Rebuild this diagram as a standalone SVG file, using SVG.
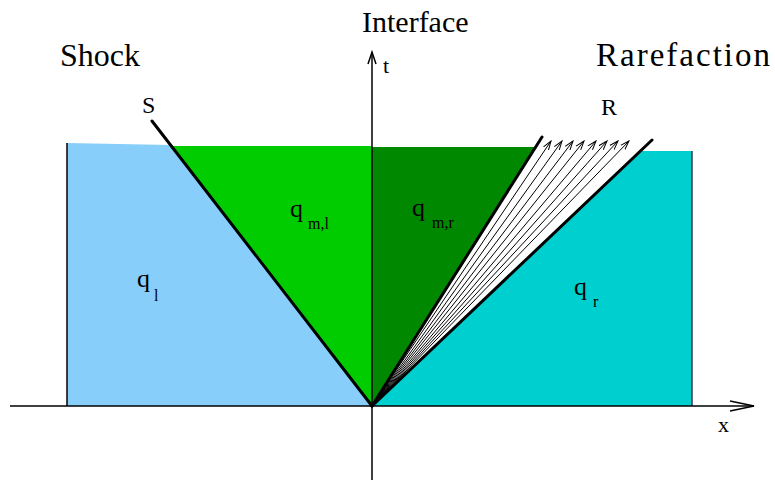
<svg xmlns="http://www.w3.org/2000/svg" width="775" height="487" viewBox="0 0 775 487">
<defs>
<marker id="fan" markerWidth="10" markerHeight="10" refX="9" refY="5" orient="auto" markerUnits="userSpaceOnUse">
<path d="M0,2 L9,5 L0,8" fill="none" stroke="#000" stroke-width="1"/>
</marker>
</defs>
<style>
.big{font-size:30px}
.mid{font-size:24px}
.q{font-size:26px}
.sub{font-size:16px}
.thick{stroke:#000;stroke-width:3;fill:none;stroke-linecap:round}
.thin{stroke:#000;stroke-width:1;fill:none}
.axis{stroke:#000;stroke-width:1.5;fill:none}
</style>
<g id="regions">
<polygon id="ql-region" points="67,143 170,145 372,406 67,406" fill="#87cefa"/>
<polygon id="qml-region" points="170,146 372,146 372,406" fill="#00cc00"/>
<polygon id="qmr-region" points="372,147 536,147 372,406" fill="#008800"/>
<polygon id="qr-region" points="640,151 692,151 692,406 372,406" fill="#00cfd0"/>
<line x1="67" y1="143" x2="67" y2="406" stroke="#000" stroke-width="1.5"/>
<line x1="692" y1="151" x2="692" y2="406" stroke="#335" stroke-width="1.5"/>
</g>
<g id="connectors">
<line class="axis" x1="10" y1="406" x2="754" y2="406"/>
<polyline class="axis" points="730,401 754,406 730,411"/>
<line class="axis" x1="372" y1="480" x2="372" y2="52"/>
<polyline class="axis" points="368,64 372,52 376,64"/>
<g id="fan-arrows">
<line class="thin" x1="372" y1="406" x2="551" y2="141" marker-end="url(#fan)"/>
<line class="thin" x1="372" y1="406" x2="562" y2="141" marker-end="url(#fan)"/>
<line class="thin" x1="372" y1="406" x2="573" y2="141" marker-end="url(#fan)"/>
<line class="thin" x1="372" y1="406" x2="584" y2="141" marker-end="url(#fan)"/>
<line class="thin" x1="372" y1="406" x2="596" y2="141" marker-end="url(#fan)"/>
<line class="thin" x1="372" y1="406" x2="607" y2="141" marker-end="url(#fan)"/>
<line class="thin" x1="372" y1="406" x2="618" y2="141" marker-end="url(#fan)"/>
<line class="thin" x1="372" y1="406" x2="629" y2="141" marker-end="url(#fan)"/>
</g>
<line id="shock" class="thick" x1="152" y1="121" x2="372" y2="406"/>
<line id="rare-left" class="thick" x1="542" y1="137" x2="372" y2="406"/>
<line id="rare-right" class="thick" x1="652" y1="140" x2="372" y2="406"/>
</g>
<g id="labels" fill="#000" font-family="'Liberation Serif', 'Times New Roman', serif">
<text class="big" x="362" y="32">Interface</text>
<text x="60" y="66" font-size="32">Shock</text>
<text x="596" y="66" font-size="33" textLength="174" lengthAdjust="spacing">Rarefaction</text>
<text class="mid" x="142" y="113">S</text>
<text class="mid" x="601" y="115">R</text>
<text font-size="22" x="383" y="73">t</text>
<text font-size="22" x="718" y="432">x</text>
<text class="q" x="137" y="287">q</text><text class="sub" x="154" y="301">l</text>
<text class="q" x="290" y="217">q</text><text class="sub" x="308" y="229">m,l</text>
<text class="q" x="412" y="216">q</text><text class="sub" x="432" y="228">m,r</text>
<text class="q" x="574" y="295">q</text><text class="sub" x="593" y="307">r</text>
</g>
</svg>
